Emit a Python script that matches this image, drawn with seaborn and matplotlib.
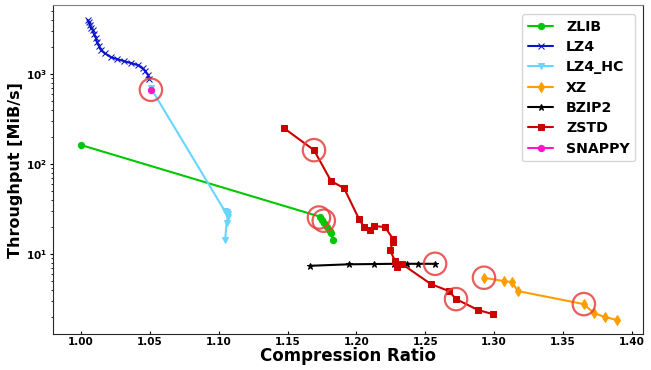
import numpy as np
import pandas as pd
import matplotlib
matplotlib.use("Agg")
import matplotlib.pyplot as plt
import seaborn as sns

# ---------- Data ----------
zlib_x = [1.000, 1.1738, 1.1748, 1.1768, 1.1789, 1.1809, 1.1819, 1.1829]
zlib_y = [163, 26, 24, 22, 20, 18, 17, 14.3]

lz4_x = [1.0049, 1.0058, 1.0065, 1.0072, 1.0087, 1.0095, 1.0109, 1.0116, 1.0131, 1.0145,
         1.0173, 1.0217, 1.0264, 1.0312, 1.0366, 1.0414, 1.0447, 1.0467, 1.0488, 1.0494]
lz4_y = [3981, 3758, 3500, 3242, 3083, 2783, 2512, 2268, 2048, 1848,
         1711, 1545, 1468, 1395, 1325, 1259, 1166, 1080, 975, 880]

lz4hc_x = [1.0508, 1.1045, 1.1057, 1.1067, 1.1067, 1.1057, 1.1047]
lz4hc_y = [699, 30, 29, 28, 26, 22, 14.3]

xz_x = [1.2926, 1.3069, 1.3129, 1.3172, 1.3651, 1.3723, 1.3804, 1.3892]
xz_y = [5.46, 5.01, 4.88, 3.88, 2.78, 2.21, 2.0, 1.85]

bzip2_x = [1.1663, 1.1946, 1.2128, 1.2273, 1.2367, 1.2447, 1.2571]
bzip2_y = [7.41, 7.7, 7.75, 7.8, 7.8, 7.8, 7.8]

zstd_x = [1.1474, 1.1692, 1.1816, 1.1910, 1.2019, 1.2055, 1.2098, 1.2128, 1.2207, 1.2266,
          1.2266, 1.2244, 1.2280, 1.2295, 1.2331, 1.2541, 1.2672, 1.2723, 1.2883, 1.2991]
zstd_y = [251, 143, 64.7, 54.1, 24.5, 20, 18.5, 20.5, 20, 14.7,
          13.6, 11.1, 8.36, 7.17, 7.74, 4.64, 3.88, 3.16, 2.39, 2.15]

snappy_x = [1.0508]
snappy_y = [665]

# highlighted (pareto) points
best_x = [1.0508, 1.1692, 1.1728, 1.1763, 1.2571, 1.2723, 1.2926, 1.3651]
best_y = [670, 143, 25.5, 23.5, 7.8, 3.16, 5.46, 2.78]

names = ["ZLIB", "LZ4", "LZ4_HC", "XZ", "BZIP2", "ZSTD", "SNAPPY"]
series = [(zlib_x, zlib_y), (lz4_x, lz4_y), (lz4hc_x, lz4hc_y), (xz_x, xz_y),
          (bzip2_x, bzip2_y), (zstd_x, zstd_y), (snappy_x, snappy_y)]

colors = {"ZLIB": "#00c800", "LZ4": "#0a14c8", "LZ4_HC": "#66d6ff", "XZ": "#ff9c00",
          "BZIP2": "#000000", "ZSTD": "#cc0000", "SNAPPY": "#ff14c8"}
markers = {"ZLIB": "o", "LZ4": "x", "LZ4_HC": "v", "XZ": "d",
           "BZIP2": "*", "ZSTD": "s", "SNAPPY": "o"}

rows = []
for n, (xs, ys) in zip(names, series):
    for i, (x, y) in enumerate(zip(xs, ys)):
        rows.append({"algo": n, "idx": i, "ratio": x, "tput": y})
df = pd.DataFrame(rows)

# ---------- Plot ----------
sns.set_style("ticks")
plt.rcParams["font.family"] = ["DejaVu Sans"]
plt.rcParams["text.color"] = "black"
plt.rcParams["axes.labelcolor"] = "black"
plt.rcParams["xtick.color"] = "black"
plt.rcParams["ytick.color"] = "black"

fig = plt.figure(figsize=(6.51, 3.70), dpi=100)
ax = fig.add_axes([0.082, 0.097, 0.905, 0.889])

for n in names:
    sub = df[df.algo == n]
    sns.lineplot(data=sub, x="ratio", y="tput", sort=False, estimator=None,
                 color=colors[n], marker=markers[n], markersize=4.5 if n != "XZ" else 5,
                 markeredgecolor=colors[n], linewidth=1.5, label=n, ax=ax)

ax.scatter(best_x, best_y, s=260, facecolors="none", edgecolors="#e84040",
           linewidths=1.6, alpha=0.85, zorder=5)

ax.set_yscale("log")
ax.set_xlim(0.980, 1.4077)
ax.set_ylim(1.29, 5840)
ax.set_xticks(np.arange(1.0, 1.401, 0.05))
ax.set_xticklabels([f"{t:.2f}" for t in np.arange(1.0, 1.401, 0.05)])

ax.set_xlabel("Compression Ratio", fontsize=12, fontweight="bold", labelpad=0)
ax.set_ylabel("Throughput [MiB/s]", fontsize=11.5, fontweight="bold", labelpad=2)
for lab in ax.get_xticklabels() + ax.get_yticklabels():
    lab.set_fontweight("bold")
ax.tick_params(axis="x", which="major", labelsize=7.5, length=2, pad=2, direction="in")
ax.tick_params(axis="y", which="major", labelsize=7.5, length=2.5, pad=2)
ax.tick_params(axis="both", which="minor", length=1.5)
ax.spines["top"].set_color("#808080")

leg = ax.legend(loc="upper right", prop={"weight": "bold", "size": 10.2},
                handlelength=1.8, handletextpad=0.9, borderpad=0.4, labelspacing=0.45,
                bbox_to_anchor=(1.0, 0.995))

fig.savefig("out.png", dpi=100)
